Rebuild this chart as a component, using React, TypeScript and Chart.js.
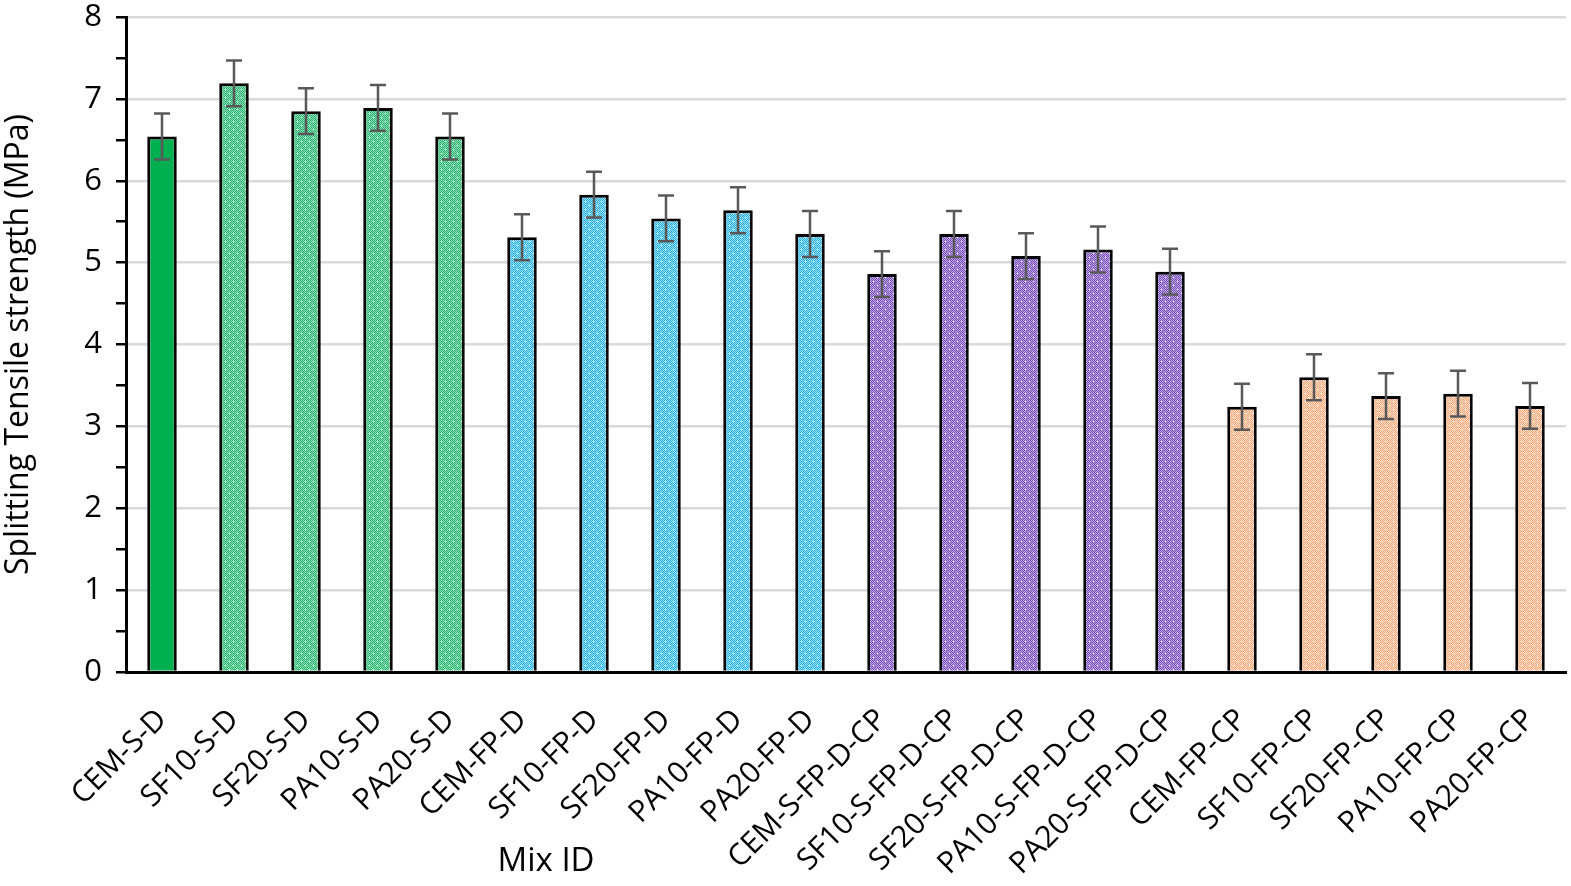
import { useRef, useEffect } from "react";
import { Chart, registerables } from "chart.js";

Chart.register(...registerables);

const mixIds = [
  "CEM-S-D", "SF10-S-D", "SF20-S-D", "PA10-S-D", "PA20-S-D",
  "CEM-FP-D", "SF10-FP-D", "SF20-FP-D", "PA10-FP-D", "PA20-FP-D",
  "CEM-S-FP-D-CP", "SF10-S-FP-D-CP", "SF20-S-FP-D-CP", "PA10-S-FP-D-CP", "PA20-S-FP-D-CP",
  "CEM-FP-CP", "SF10-FP-CP", "SF20-FP-CP", "PA10-FP-CP", "PA20-FP-CP",
];

const strength = [
  6.54, 7.19, 6.85, 6.89, 6.54,
  5.31, 5.83, 5.54, 5.64, 5.35,
  4.86, 5.35, 5.08, 5.16, 4.89,
  3.24, 3.60, 3.37, 3.40, 3.25,
];

const errors = [
  0.28, 0.28, 0.28, 0.28, 0.28,
  0.28, 0.28, 0.28, 0.28, 0.28,
  0.28, 0.28, 0.28, 0.28, 0.28,
  0.28, 0.28, 0.28, 0.28, 0.28,
];

const groups = [
  "solid", "green", "green", "green", "green",
  "blue", "blue", "blue", "blue", "blue",
  "purple", "purple", "purple", "purple", "purple",
  "peach", "peach", "peach", "peach", "peach",
];

const yTicks = [0, 1, 2, 3, 4, 5, 6, 7, 8];

const FONT = "'Open Sans', 'Noto Sans', sans-serif";

function makePattern(ctx: CanvasRenderingContext2D, dark: string, light: string) {
  const c = document.createElement("canvas");
  c.width = 8;
  c.height = 8;
  const g = c.getContext("2d")!;
  for (let y = 0; y < 8; y++) {
    for (let x = 0; x < 8; x++) {
      g.fillStyle = (x + y) % 2 === 0 ? dark : light;
      g.fillRect(x, y, 1, 1);
    }
  }
  g.fillStyle = "#ffffff";
  g.fillRect(1, 1, 1, 1);
  g.fillRect(5, 5, 1, 1);
  return ctx.createPattern(c, "repeat");
}

const errorBars = {
  id: "errorBars",
  afterDatasetsDraw(chart: any) {
    const { ctx, scales } = chart;
    const meta = chart.getDatasetMeta(0);
    ctx.save();
    ctx.strokeStyle = "#595959";
    ctx.lineWidth = 2.5;
    meta.data.forEach((bar: any, i: number) => {
      const x = bar.x;
      const top = scales.y.getPixelForValue(strength[i] + errors[i]);
      const bot = scales.y.getPixelForValue(strength[i] - errors[i]);
      ctx.beginPath();
      ctx.moveTo(x, top);
      ctx.lineTo(x, bot);
      ctx.moveTo(x - 8, top);
      ctx.lineTo(x + 8, top);
      ctx.moveTo(x - 8, bot);
      ctx.lineTo(x + 8, bot);
      ctx.stroke();
    });
    ctx.restore();
  },
};

// Excel placed the x-axis title off-centre, to the left
const mixTitle = {
  id: "mixTitle",
  afterDraw(chart: any) {
    const { ctx, chartArea } = chart;
    ctx.save();
    ctx.font = `33px ${FONT}`;
    ctx.fillStyle = "#000";
    ctx.textAlign = "center";
    ctx.textBaseline = "middle";
    const x = chartArea.left + (chartArea.right - chartArea.left) * 0.2917;
    ctx.fillText("Mix ID", x, chart.height - 24);
    ctx.restore();
  },
};

const App = () => {
  const chartRef = useRef<HTMLCanvasElement>(null);
  const chartInstance = useRef<Chart | null>(null);

  useEffect(() => {
    if (!chartRef.current) return;
    if (chartInstance.current) chartInstance.current.destroy();
    const ctx = chartRef.current.getContext("2d");
    if (!ctx) return;

    const fills: Record<string, any> = {
      solid: "#00B050",
      green: makePattern(ctx, "#26B46F", "#8FDDB6"),
      blue: makePattern(ctx, "#22B2E2", "#9EDDF3"),
      purple: makePattern(ctx, "#7A50BE", "#BCA5E2"),
      peach: makePattern(ctx, "#F1A775", "#FBDDC9"),
    };

    chartInstance.current = new Chart(ctx, {
      type: "bar",
      data: {
        labels: mixIds,
        datasets: [
          {
            label: "Splitting Tensile strength",
            data: strength,
            backgroundColor: groups.map((g) => fills[g]),
            borderColor: "#000",
            borderWidth: 3,
            borderSkipped: "bottom",
            barPercentage: 0.41,
            categoryPercentage: 1,
          },
        ],
      },
      options: {
        animation: false,
        responsive: true,
        maintainAspectRatio: false,
        layout: { padding: { top: 17, right: 5, left: 0, bottom: 0 } },
        plugins: {
          legend: { display: false },
          tooltip: { enabled: false },
        },
        scales: {
          x: {
            grid: { display: false },
            border: { display: true, color: "#000", width: 3 },
            ticks: {
              color: "#000",
              font: { family: FONT, size: 30 },
              maxRotation: 45,
              minRotation: 45,
              autoSkip: false,
              padding: 22,
            },
            afterFit: (scale: any) => {
              scale.height = 214;
              scale.paddingLeft = 0;
              scale.paddingRight = 0;
            },
          },
          y: {
            min: 0,
            max: 8,
            afterBuildTicks: (scale: any) => {
              const t: any[] = [];
              yTicks.forEach((v, i) => {
                t.push({ value: v });
                if (i < yTicks.length - 1) t.push({ value: v + 0.5 });
              });
              scale.ticks = t;
            },
            grid: {
              color: (c: any) =>
                Number.isInteger(c.tick?.value) && c.tick.value !== 0 ? "#D9D9D9" : "rgba(0,0,0,0)",
              lineWidth: 2.5,
              drawTicks: true,
              tickLength: 10,
              tickColor: "#000",
              tickWidth: 2.5,
            },
            border: { display: true, color: "#000", width: 3 },
            ticks: {
              color: "#000",
              padding: 14,
              font: { family: FONT, size: 31 },
              callback: (v: any) => (Number.isInteger(v) ? String(v) : ""),
            },
            title: {
              display: true,
              text: "Splitting Tensile strength (MPa)",
              color: "#000",
              font: { family: FONT, size: 32 },
              padding: { top: 0, bottom: 4 },
            },
            afterFit: (scale: any) => {
              scale.width = 126;
              scale.paddingTop = 0;
              scale.paddingBottom = 0;
            },
          },
        },
      },
      plugins: [errorBars, mixTitle],
    });

    return () => {
      if (chartInstance.current) {
        chartInstance.current.destroy();
        chartInstance.current = null;
      }
    };
  }, []);

  return (
    <div style={{ position: "fixed", left: 0, top: 0, width: 1571, height: 886, background: "#fff" }}>
      <canvas ref={chartRef} aria-label="Splitting tensile strength bar chart" role="img"></canvas>
    </div>
  );
};

export default App;
